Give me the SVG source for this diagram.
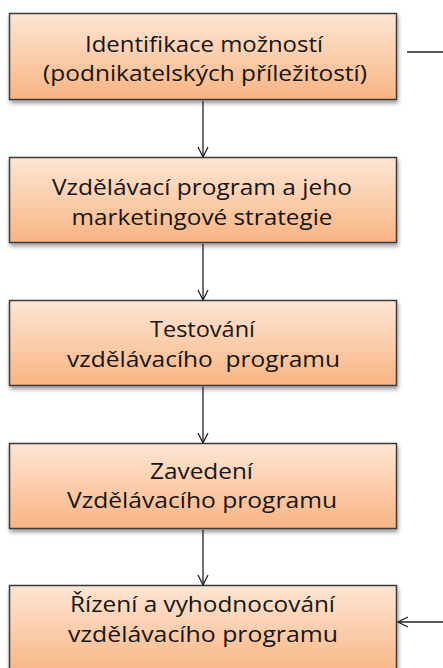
<svg xmlns="http://www.w3.org/2000/svg" width="443" height="668" viewBox="0 0 443 668">
<defs>
<linearGradient id="g" x1="0" y1="0" x2="0" y2="1">
<stop offset="0" stop-color="#fde6d4"/>
<stop offset="1" stop-color="#f9b483"/>
</linearGradient>
<filter id="sh" x="-5%" y="-10%" width="115%" height="130%">
<feGaussianBlur in="SourceAlpha" stdDeviation="2"/>
<feOffset dx="1" dy="3"/>
<feComponentTransfer><feFuncA type="linear" slope="0.4"/></feComponentTransfer>
<feMerge><feMergeNode/><feMergeNode in="SourceGraphic"/></feMerge>
</filter>
<marker id="a" viewBox="0 0 12 12" refX="11" refY="6" markerWidth="12" markerHeight="12" markerUnits="userSpaceOnUse" orient="auto">
<path d="M1,1 L11,6 L1,11" fill="none" stroke="#222" stroke-width="1.3"/>
</marker>
<style>
.box{fill:url(#g);stroke:#3a3a3a;stroke-width:1.5;filter:url(#sh)}
.t{font-family:"Open Sans","Liberation Sans",sans-serif;font-size:22px;font-weight:500;fill:#161616;text-anchor:middle}
.c{stroke:#222;stroke-width:1.3;fill:none}
</style>
</defs>
<g id="n1"><rect class="box" x="9.5" y="13.5" width="387" height="86"/><text class="t" x="204" y="52" textLength="238" lengthAdjust="spacingAndGlyphs">Identifikace možností</text><text class="t" x="205" y="81" textLength="324" lengthAdjust="spacingAndGlyphs">(podnikatelských příležitostí)</text></g>
<g id="n2"><rect class="box" x="9.5" y="157.5" width="387" height="85"/><text class="t" x="202" y="195" textLength="300" lengthAdjust="spacingAndGlyphs">Vzdělávací program a jeho</text><text class="t" x="202" y="225" textLength="261" lengthAdjust="spacingAndGlyphs">marketingové strategie</text></g>
<g id="n3"><rect class="box" x="9.5" y="300.5" width="387" height="85"/><text class="t" x="202.5" y="337" textLength="105" lengthAdjust="spacingAndGlyphs">Testování</text><text class="t" x="203.5" y="367" textLength="273" lengthAdjust="spacingAndGlyphs" xml:space="preserve">vzdělávacího  programu</text></g>
<g id="n4"><rect class="box" x="9.5" y="443.5" width="387" height="85"/><text class="t" x="201.5" y="479" textLength="103" lengthAdjust="spacingAndGlyphs">Zavedení</text><text class="t" x="202" y="508" textLength="270" lengthAdjust="spacingAndGlyphs">Vzdělávacího programu</text></g>
<g id="n5"><rect class="box" x="9.5" y="585.5" width="387" height="90"/><text class="t" x="202.5" y="612" textLength="265" lengthAdjust="spacingAndGlyphs">Řízení a vyhodnocování</text><text class="t" x="203" y="642" textLength="270" lengthAdjust="spacingAndGlyphs">vzdělávacího programu</text></g>
<g id="connectors">
<line class="c" x1="203" y1="101" x2="203" y2="157" marker-end="url(#a)"/>
<line class="c" x1="203" y1="244" x2="203" y2="300" marker-end="url(#a)"/>
<line class="c" x1="203" y1="387" x2="203" y2="443" marker-end="url(#a)"/>
<line class="c" x1="203" y1="530" x2="203" y2="585" marker-end="url(#a)"/>
<line class="c" x1="407" y1="52" x2="443" y2="52"/>
<line class="c" x1="443" y1="622" x2="398" y2="622" marker-end="url(#a)"/>
</g>
</svg>
